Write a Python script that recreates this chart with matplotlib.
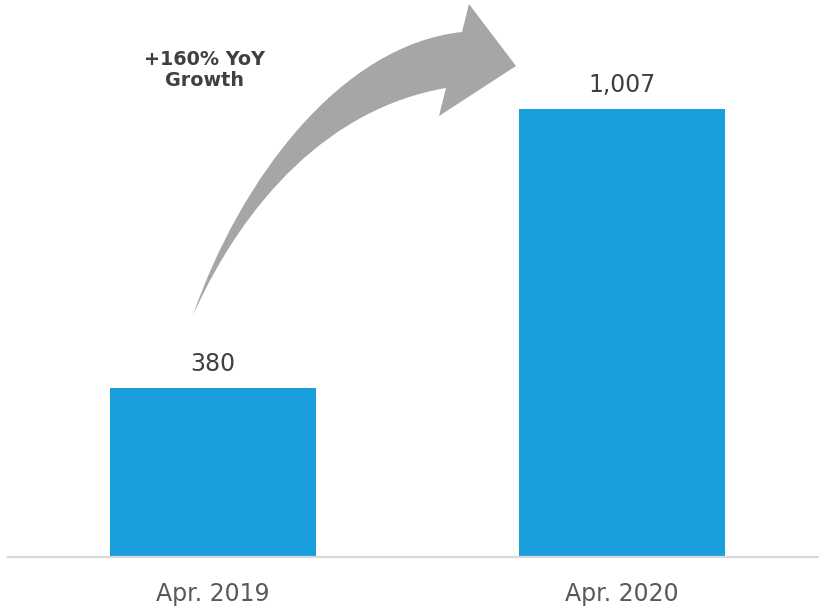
import matplotlib.pyplot as plt
from matplotlib.path import Path
from matplotlib.patches import PathPatch

categories = ["Apr. 2019", "Apr. 2020"]
values = [380, 1007]
value_labels = ["380", "1,007"]
growth_text = "+160% YoY\nGrowth"

W, H = 819, 609
fig = plt.figure(figsize=(W / 100, H / 100), dpi=100)
ax = fig.add_axes([8 / W, 52 / H, 1.0, 489 / H])

x = list(range(len(categories)))
ax.bar(x, values, width=0.502, color="#189FDC", zorder=2)
ax.set_xlim(-0.5, 1.5)
ax.set_ylim(0, 1100)

for xi, v, lab in zip(x, values, value_labels):
    ax.annotate(lab, (xi, v), xytext=(0, 9), textcoords="offset points",
                ha="center", va="bottom", fontsize=17, color="#404040")

ax.set_xticks(x)
ax.set_xticklabels(categories, fontsize=17, color="#595959")
ax.tick_params(axis="x", length=0, pad=18)
ax.set_yticks([])
for s in ["top", "right", "left"]:
    ax.spines[s].set_visible(False)
ax.spines["bottom"].set_color("#D9D9D9")
ax.spines["bottom"].set_linewidth(1.6)

# curved growth arrow, drawn in reference pixel space
def px(p):
    return (p[0] / W, 1 - p[1] / H)

verts = [(193, 315), (240, 180), (340, 45), (462, 32),
         (469, 4), (516, 66), (439, 116), (446, 88),
         (330, 108), (245, 200), (193, 315), (193, 315)]
codes = [Path.MOVETO, Path.CURVE4, Path.CURVE4, Path.CURVE4,
         Path.LINETO, Path.LINETO, Path.LINETO, Path.LINETO,
         Path.CURVE4, Path.CURVE4, Path.CURVE4, Path.CLOSEPOLY]
arrow = PathPatch(Path([px(v) for v in verts], codes), transform=fig.transFigure,
                  facecolor="#A6A6A6", edgecolor="none")
fig.patches.append(arrow)

fig.text(204 / W, 1 - 70 / H, growth_text, ha="center", va="center",
         fontsize=13.8, fontweight="bold", color="#404040", linespacing=1.15)

fig.savefig("out.png", dpi=100)
